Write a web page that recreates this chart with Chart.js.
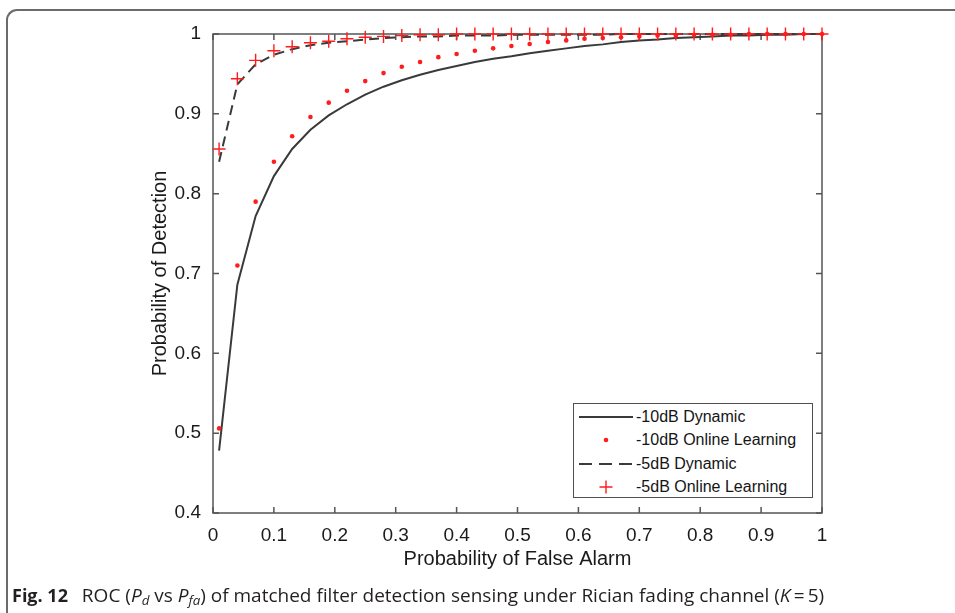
<!DOCTYPE html>
<html>
<head>
<meta charset="utf-8">
<script src="https://cdn.jsdelivr.net/npm/chart.js@4.4.0/dist/chart.umd.min.js"></script>
<style>
  html, body { margin:0; padding:0; background:#fff; width:955px; height:613px; overflow:hidden; }
  #wrap { position:relative; width:955px; height:613px; }
  #frame { position:absolute; left:6px; top:9px; width:980px; height:640px; box-sizing:border-box;
           border-top:2px solid #6b6b6b; border-left:2px solid #6b6b6b; border-top-left-radius:11px; }
  #c { position:absolute; left:0; top:0; }
  #legend { position:absolute; left:573px; top:403px; width:240px; height:95px; box-sizing:border-box;
            border:1.5px solid #505050; background:#fff;
            font-family:"Liberation Sans", Arial, sans-serif; font-size:16px; color:#151515; }
  #legend .row { position:absolute; left:0; height:22px; line-height:22px; white-space:nowrap; }
  #legend canvas { position:absolute; left:3px; top:0; }
  #legend span { position:absolute; left:62px; top:0; }
  #caption { position:absolute; left:12px; top:583px; font-family:"Open Sans", "Noto Sans", sans-serif;
             font-size:19px; line-height:24px; color:#231f20; white-space:nowrap; }
  #caption b { font-weight:700; font-size:18px; margin-right:9px; }
  #caption sub { font-size:70%; vertical-align:-0.25em; line-height:0; }
</style>
</head>
<body>
<div id="wrap">
  <div id="frame"></div>
  <canvas id="c" width="955" height="613"></canvas>
  <div id="legend"></div>
  <div id="caption"><b>Fig. 12</b> ROC (<i>P<sub>d</sub></i> vs <i>P<sub>fa</sub></i>) of matched filter detection sensing under Rician fading channel (<i>K</i>&#8201;=&#8201;5)</div>
</div>
<script>
// ---- data ----
const pfa = [0.01,0.04,0.07,0.10,0.13,0.16,0.19,0.22,0.25,0.28,0.31,0.34,0.37,0.40,0.43,0.46,0.49,
             0.52,0.55,0.58,0.61,0.64,0.67,0.70,0.73,0.76,0.79,0.82,0.85,0.88,0.91,0.94,0.97,1.00];
const pdDynamic10 = [0.478,0.686,0.772,0.822,0.856,0.880,0.898,0.912,0.924,0.934,0.942,0.949,0.955,0.960,0.965,0.969,0.972,
                     0.976,0.979,0.982,0.985,0.987,0.990,0.992,0.993,0.995,0.996,0.997,0.998,0.998,0.999,0.999,1.000,1.000];
const pdOnline10  = [0.506,0.710,0.790,0.840,0.872,0.896,0.914,0.929,0.941,0.951,0.959,0.965,0.971,0.975,0.979,0.982,0.985,
                     0.9875,0.990,0.992,0.994,0.995,0.996,0.997,0.998,0.998,0.999,0.999,0.999,1.000,1.000,1.000,1.000,1.000];
const pdDynamic5  = [0.840,0.937,0.962,0.974,0.981,0.986,0.989,0.991,0.993,0.995,0.996,0.997,0.997,0.998,0.998,0.998,0.999,
                     0.999,0.999,0.999,0.999,0.999,1.000,1.000,1.000,1.000,1.000,1.000,1.000,1.000,1.000,1.000,1.000,1.000];
const pdOnline5   = [0.856,0.944,0.967,0.979,0.984,0.989,0.991,0.994,0.996,0.997,0.998,0.999,0.999,1.000,1.000,1.000,1.000,
                     1.000,1.000,1.000,1.000,1.000,1.000,1.000,1.000,1.000,1.000,1.000,1.000,1.000,1.000,1.000,1.000,1.000];
const seriesNames = ['-10dB Dynamic', '-10dB Online Learning', '-5dB Dynamic', '-5dB Online Learning'];
const xTickValues = [0,0.1,0.2,0.3,0.4,0.5,0.6,0.7,0.8,0.9,1];
const xTickLabels = ['0','0.1','0.2','0.3','0.4','0.5','0.6','0.7','0.8','0.9','1'];
const yTickValues = [0.4,0.5,0.6,0.7,0.8,0.9,1];
const yTickLabels = ['0.4','0.5','0.6','0.7','0.8','0.9','1'];
const xTitle = 'Probability of False Alarm';
const yTitle = 'Probability of Detection';

const pts = arr => pfa.map((x, i) => ({x, y: arr[i]}));
const LINE = '#3a3a3a', RED = '#ff1c1c', AXIS = '#555555';
const FONT = '"Liberation Sans", Arial, sans-serif';

const datasets = [
  { label: seriesNames[0], data: pts(pdDynamic10), showLine: true, borderColor: LINE, borderWidth: 2,
    pointRadius: 0, tension: 0, order: 2, clip: false },
  { label: seriesNames[1], data: pts(pdOnline10), showLine: false, pointStyle: 'circle', pointRadius: 2.3,
    backgroundColor: RED, borderColor: RED, borderWidth: 0, order: 1, clip: false },
  { label: seriesNames[2], data: pts(pdDynamic5), showLine: true, borderColor: LINE, borderWidth: 2,
    borderDash: [10, 6], pointRadius: 0, tension: 0, order: 2, clip: false },
  { label: seriesNames[3], data: pts(pdOnline5), showLine: false, pointStyle: 'cross', pointRadius: 6.5,
    backgroundColor: RED, borderColor: RED, borderWidth: 1.4, order: 1, clip: false }
];

// MATLAB-style box with inward ticks on all four sides
const boxPlugin = {
  id: 'matlabBox',
  beforeDatasetsDraw(chart) {
    const {ctx, chartArea: a, scales: {x, y}} = chart;
    ctx.save();
    ctx.strokeStyle = AXIS; ctx.lineWidth = 1.5;
    ctx.strokeRect(a.left, a.top, a.right - a.left, a.bottom - a.top);
    const L = 6;
    ctx.beginPath();
    x.ticks.forEach(t => { const p = x.getPixelForValue(t.value);
      ctx.moveTo(p, a.bottom); ctx.lineTo(p, a.bottom - L);
      ctx.moveTo(p, a.top); ctx.lineTo(p, a.top + L); });
    y.ticks.forEach(t => { const p = y.getPixelForValue(t.value);
      ctx.moveTo(a.left, p); ctx.lineTo(a.left + L, p);
      ctx.moveTo(a.right, p); ctx.lineTo(a.right - L, p); });
    ctx.stroke();
    ctx.restore();
  }
};

const chart = new Chart(document.getElementById('c'), {
  type: 'scatter',
  data: { datasets },
  options: {
    responsive: false, animation: false, devicePixelRatio: 1,
    layout: { padding: { left: 0, top: 34, right: 133, bottom: 30 } },
    plugins: { legend: { display: false }, tooltip: { enabled: false } },
    scales: {
      x: {
        type: 'linear', min: 0, max: 1,
        afterBuildTicks: s => { s.ticks = xTickValues.map(v => ({value: v})); },
        afterFit: s => { s.height = 70; },
        grid: { display: false, drawTicks: false }, border: { display: false },
        ticks: { callback: (v, i) => xTickLabels[i], color: '#1a1a1a', padding: 11,
                 font: { family: FONT, size: 19 }, maxRotation: 0, autoSkip: false },
        title: { display: true, text: xTitle, color: '#1a1a1a', font: { family: FONT, size: 20 },
                 padding: { top: 0, bottom: 12 } }
      },
      y: {
        type: 'linear', min: 0.4, max: 1,
        afterBuildTicks: s => { s.ticks = yTickValues.map(v => ({value: v})); },
        afterFit: s => { s.width = 213; },
        grid: { display: false, drawTicks: false }, border: { display: false },
        ticks: { callback: (v, i) => yTickLabels[i], color: '#1a1a1a', padding: 12,
                 font: { family: FONT, size: 19 }, autoSkip: false },
        title: { display: true, text: yTitle, color: '#1a1a1a', font: { family: FONT, size: 20 },
                 padding: { top: 148, bottom: 0 } }
      }
    }
  },
  plugins: [boxPlugin]
});

// Legend built from the chart's datasets
const legend = document.getElementById('legend');
const rowCenters = [12.5, 36, 59.5, 83];
chart.data.datasets.forEach((ds, i) => {
  const row = document.createElement('div');
  row.className = 'row';
  row.style.top = (rowCenters[i] - 11) + 'px';
  row.style.width = '100%';
  const cv = document.createElement('canvas');
  cv.width = 58; cv.height = 22;
  const g = cv.getContext('2d');
  if (ds.showLine) {
    g.strokeStyle = ds.borderColor; g.lineWidth = ds.borderWidth;
    if (ds.borderDash) g.setLineDash([13, 7]);
    g.beginPath(); g.moveTo(2, 11); g.lineTo(56, 11); g.stroke();
  } else if (ds.pointStyle === 'circle') {
    g.fillStyle = ds.backgroundColor; g.beginPath(); g.arc(29, 11, ds.pointRadius, 0, Math.PI * 2); g.fill();
  } else {
    g.strokeStyle = ds.borderColor; g.lineWidth = ds.borderWidth;
    const r = ds.pointRadius;
    g.beginPath(); g.moveTo(29 - r, 11); g.lineTo(29 + r, 11); g.moveTo(29, 11 - r); g.lineTo(29, 11 + r); g.stroke();
  }
  const sp = document.createElement('span');
  sp.textContent = ds.label;
  row.appendChild(cv); row.appendChild(sp);
  legend.appendChild(row);
});
</script>
</body>
</html>
